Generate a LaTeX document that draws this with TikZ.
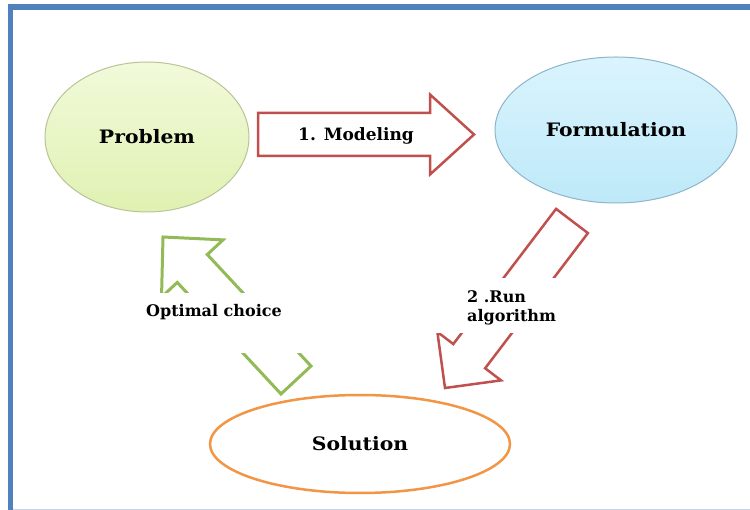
\documentclass[tikz,border=0pt]{standalone}
\usepackage{fontspec}
\usepackage{tikz}
\usetikzlibrary{shapes,calc,positioning}
\newfontfamily\diagfont[FakeStretch=1.1]{DejaVu Serif}
\newfontfamily\arrowfont{DejaVu Serif}
\definecolor{framebl}{RGB}{79,129,189}
\definecolor{framelt}{RGB}{195,212,234}
\definecolor{probgreen}{RGB}{241,250,218}
\definecolor{probgreendk}{RGB}{224,241,178}
\definecolor{probedge}{RGB}{184,196,150}
\definecolor{formblue}{RGB}{218,244,253}
\definecolor{formbluedk}{RGB}{190,233,249}
\definecolor{formedge}{RGB}{142,180,202}
\definecolor{solorange}{RGB}{242,150,70}
\definecolor{modred}{RGB}{192,80,77}
\definecolor{choicegreen}{RGB}{146,186,86}
\tikzset{
    stage/.style={
                ellipse,
                inner sep=0pt,
                text=black,
                font=\diagfont\bfseries\fontsize{18.5}{20}\selectfont
            },
        problemstage/.style={
                draw=probedge,
                line width=1pt,
                top color=probgreen,
                bottom color=probgreendk,
                minimum width=204pt,
                minimum height=150pt
            },
        formstage/.style={
                draw=formedge,
                line width=1pt,
                top color=formblue,
                bottom color=formbluedk,
                minimum width=242pt,
                minimum height=146pt
            },
        solstage/.style={
                draw=solorange,
                line width=2.5pt,
                fill=white,
                minimum width=300pt,
                minimum height=98pt
            },
        arrowtext/.style={
                inner sep=0pt,
                text=black,
                font=\arrowfont\bfseries\fontsize{16}{19}\selectfont
            },
        modelarrow/.style={draw=modred, line width=2.5pt, fill=white},
        runarrow/.style={draw=modred, line width=2.5pt},
        choicearrow/.style={draw=choicegreen, line width=3pt},
}
% block arrow: #2 tail, #3 tip, #4 shaft half width, #5 head half width, #6 head length
\newcommand{\blockarrow}[6][]{%
  \coordinate (#2-head) at ($(#3)!#6!(#2)$);
  \draw[#1] ($(#2)!#4!90:(#3)$) -- ($(#2-head)!#4!-90:(#2)$)
    -- ($(#2-head)!#5!-90:(#2)$) -- (#3)
    -- ($(#2-head)!#5!90:(#2)$) -- ($(#2-head)!#4!90:(#2)$)
    -- ($(#2)!#4!-90:(#3)$) -- cycle;
}
\begin{document}
\begin{tikzpicture}[x=1pt, y=-1pt]
  \useasboundingbox (0,0) rectangle (750,510);
  % Frame
  \draw[framelt, line width=1pt] (10,509) -- (750,509);
  \draw[framebl, line width=5.5pt] (750,7) -- (10.5,7) -- (10.5,510);
  % Stages
  \node[stage, problemstage] (problem) at (147,137) {Problem};
  \node[stage, formstage] (formulation) at (616,130) {Formulation};
  \node[stage, solstage] (solution) at (360,444) {Solution};
  % Arrow ends
  \coordinate (model-s) at (258,134.5);
  \coordinate (model-e) at (474,134.5);
  \coordinate (run-s) at (572,221);
  \coordinate (run-e) at (445,388);
  \coordinate (choice-s) at (296,380);
  \coordinate (choice-e) at (163,237);
  % 1. Modeling
  \blockarrow[modelarrow]{model-s}{model-e}{21.5pt}{40pt}{44pt}
  \node[arrowtext, font=\arrowfont\bfseries\fontsize{17}{19}\selectfont] (modeltext) at (356,136) {1. Modeling};
  % 2 .Run algorithm, broken by its text
  \begin{scope}
    \clip (0,0) rectangle (750,278);
    \blockarrow[runarrow]{run-s}{run-e}{20pt}{40pt}{40pt}
  \end{scope}
  \begin{scope}
    \clip (0,334) rectangle (750,510);
    \blockarrow[runarrow]{run-s}{run-e}{20pt}{40pt}{40pt}
  \end{scope}
  \node[arrowtext, align=left, anchor=west] (runtext) at (467,308) {2 .Run\\algorithm};
  % Optimal choice, broken by its text
  \begin{scope}
    \clip (0,0) rectangle (750,293);
    \blockarrow[choicearrow]{choice-s}{choice-e}{20.5pt}{42pt}{43pt}
  \end{scope}
  \begin{scope}
    \clip (0,354) rectangle (750,510);
    \blockarrow[choicearrow]{choice-s}{choice-e}{20.5pt}{42pt}{43pt}
  \end{scope}
  \node[arrowtext] (choicetext) at (214,312) {Optimal choice};
\end{tikzpicture}
\end{document}
